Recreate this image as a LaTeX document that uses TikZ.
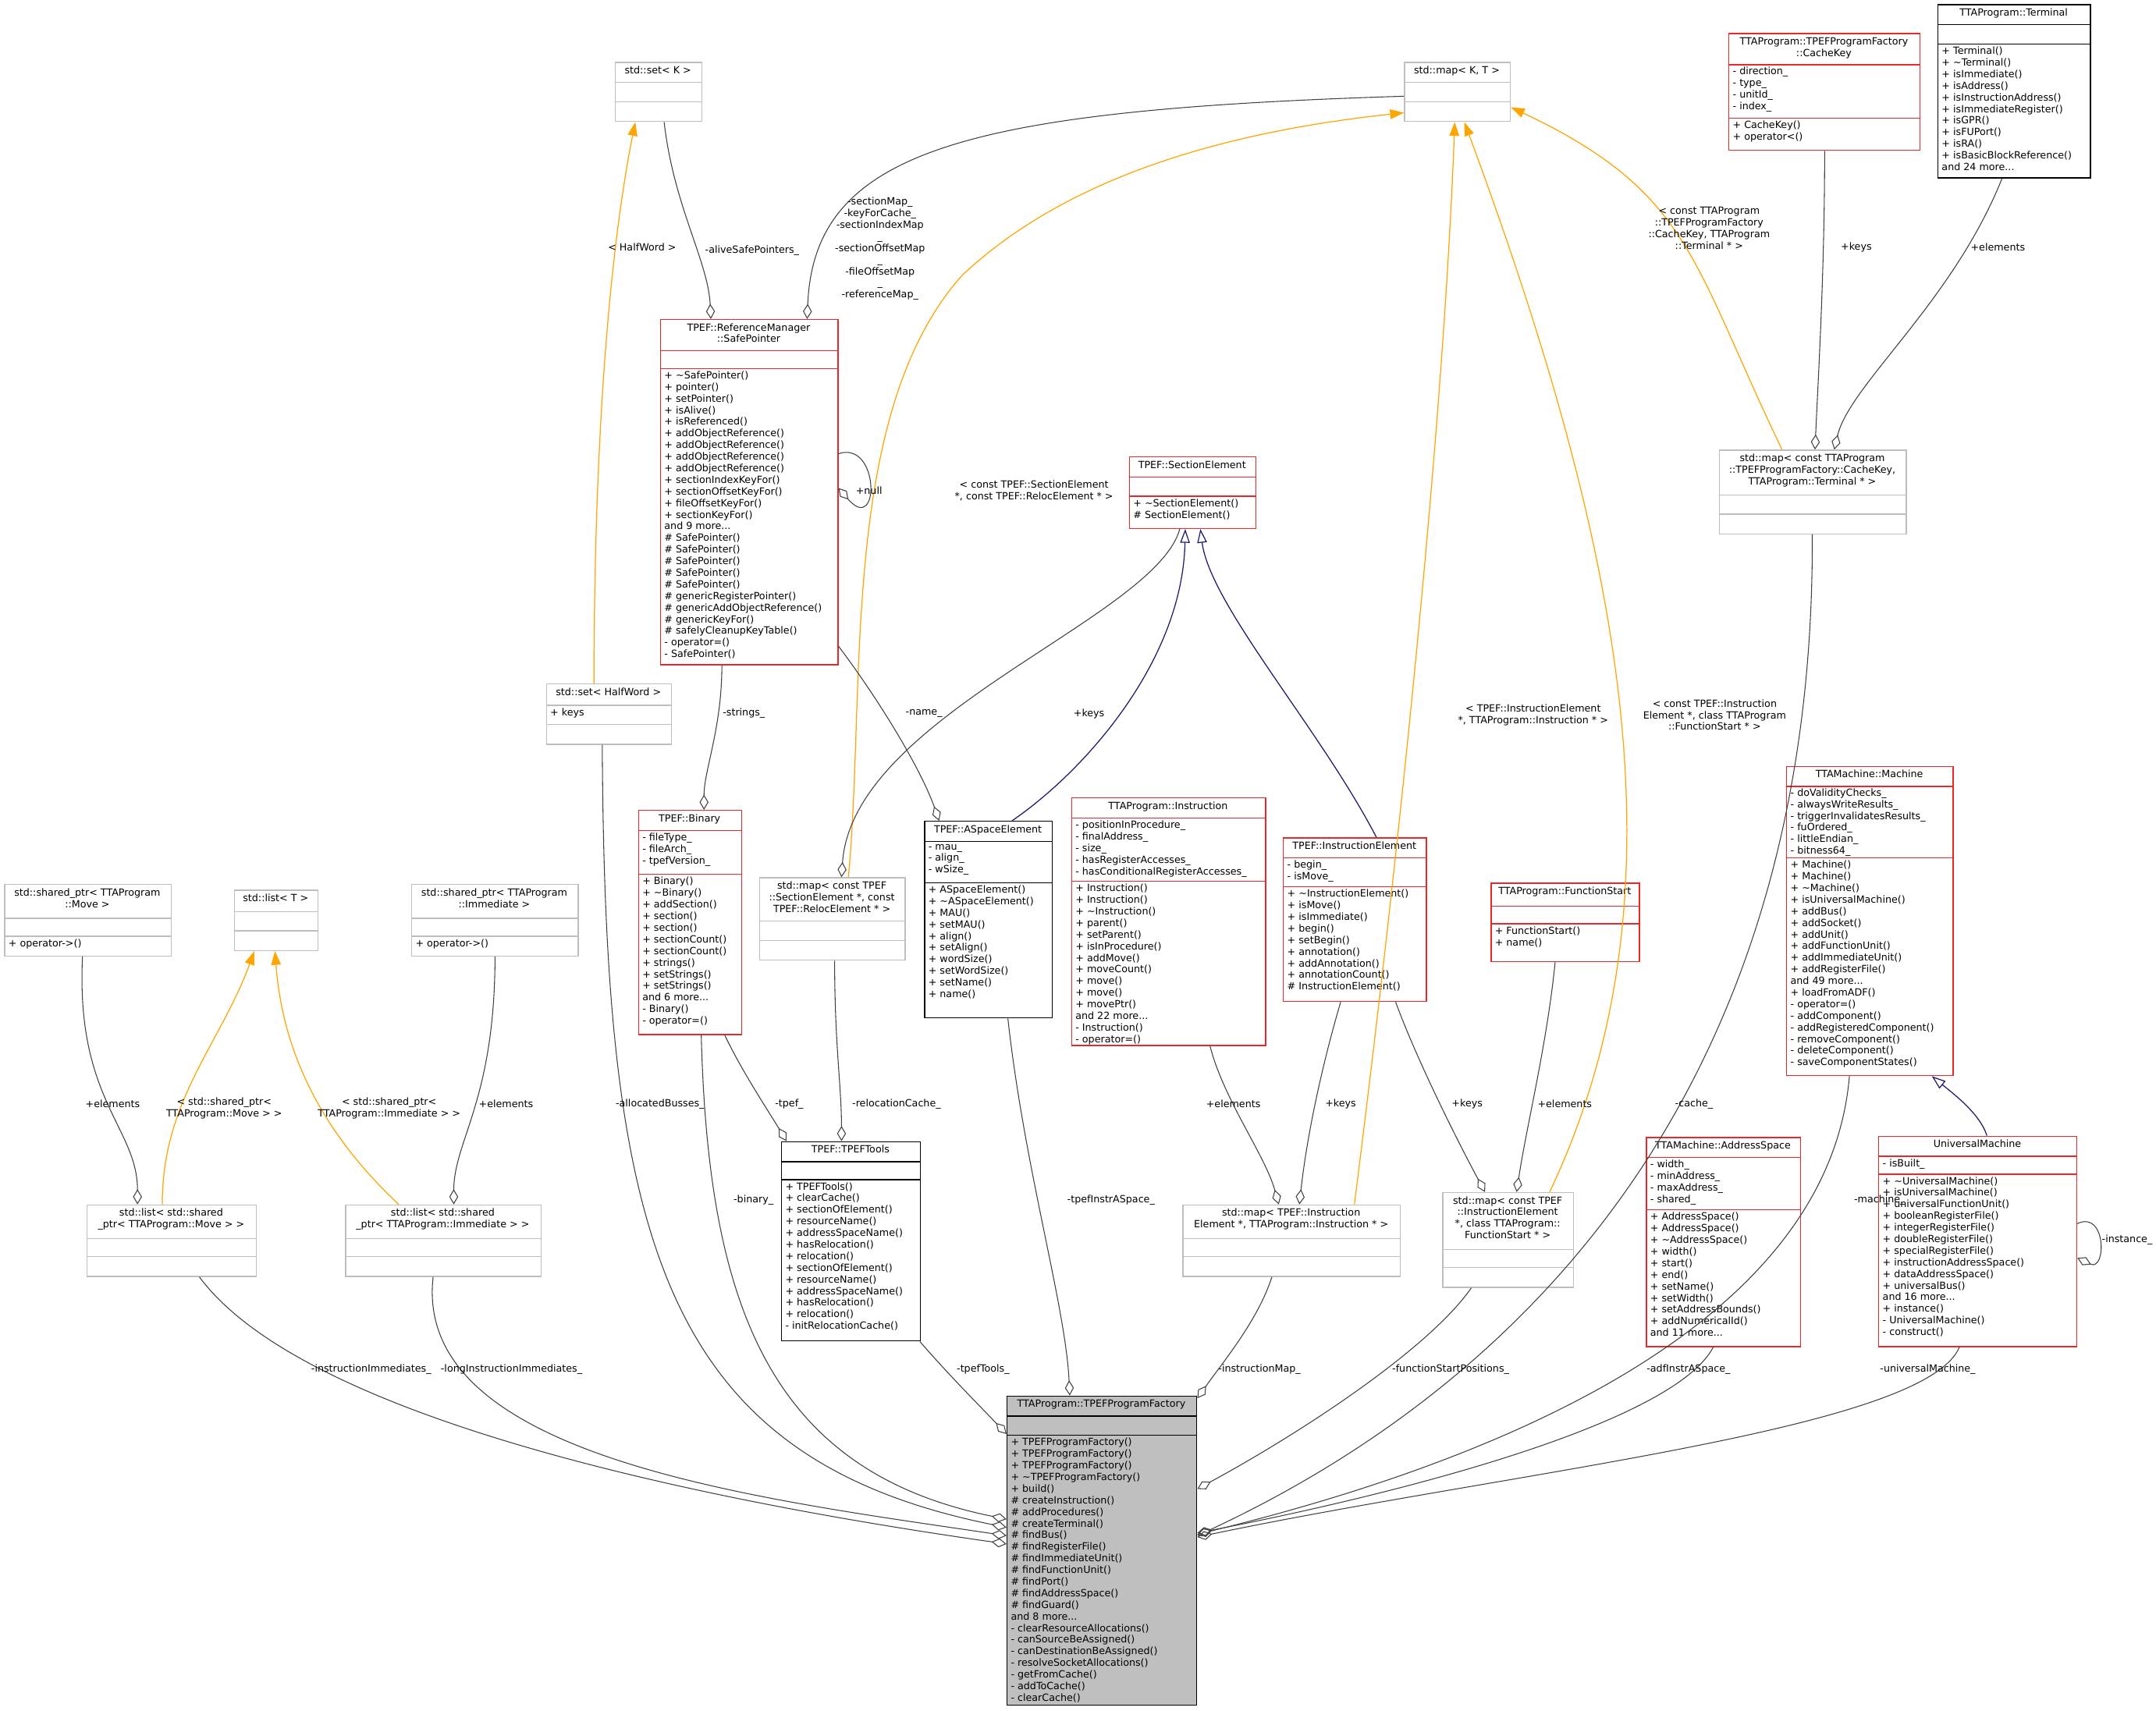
\documentclass[tikz,border=0pt]{standalone}
\usepackage{fontspec}
\setmainfont{DejaVu Sans}
\usetikzlibrary{arrows.meta}
\definecolor{ured}{RGB}{232,40,40}
\definecolor{ugray}{RGB}{190,190,190}
\definecolor{uedge}{RGB}{64,64,64}
\definecolor{uorange}{RGB}{255,165,0}
\definecolor{unavy}{RGB}{25,25,112}
\definecolor{ufac}{RGB}{191,191,191}
\newcommand\tl{\textasciitilde}
\tikzset{
 txt/.style={font=\fontsize{7.2}{8.45}\selectfont, inner sep=0pt},
 redbox/.style={draw=ured, fill=white, inner sep=0pt, line width=0.8pt},
 graybox/.style={draw=ugray, fill=white, inner sep=0pt, line width=0.8pt},
 blackbox/.style={draw=black, fill=white, inner sep=0pt, line width=0.8pt},
 facbox/.style={draw=black, fill=ufac, inner sep=0pt, line width=0.8pt},
 ttl/.style={txt, anchor=north, align=center},
 sec/.style={txt, anchor=north west, align=left},
 lbl/.style={txt, align=center},
 assoc/.style={draw=uedge, line width=0.6pt, -{Diamond[open,length=11pt,width=6.5pt,line width=0.6pt]}},
 tmpl/.style={draw=uorange, line width=0.7pt, -{Triangle[length=10pt,width=7pt]}},
 inh/.style={draw=unavy, line width=0.7pt, -{Triangle[open,length=10pt,width=7pt,fill=white]}},
}
\newcommand\ubox[9]{%
 \node[#2, anchor=north west, minimum width={(#5-#3)*1pt}, minimum height={(#8-#4)*1pt}] (#1) at (#3,#4) {};
 \draw[#2] (#3,#6) -- (#5,#6) (#3,#7) -- (#5,#7);
 \node[ttl] (#1-t) at ({(#3+#5)/2},#4+3) {#9};
}
\newcommand\usec[4]{\node[sec] (#1) at (#2+3,#3+1.8) {#4};}
\begin{document}
\begin{tikzpicture}[x=1pt,y=-1pt]
\useasboundingbox[fill=white] (0,0) rectangle (1568,1244);
% boxes
\ubox{setK}{graybox}{447}{45}{510}{60}{74}{88}{std::set< K >}
\ubox{mapKT}{graybox}{1021}{45}{1098}{60}{74}{88}{std::map< K, T >}
\ubox{cachekey}{redbox}{1257}{24}{1396}{47}{86}{109}{TTAProgram::TPEFProgramFactory\\::CacheKey}
\usec{cachekey-a}{1257}{47}{- direction\_\\- type\_\\- unitId\_\\- index\_}
\usec{cachekey-m}{1257}{86}{+ CacheKey()\\+ operator<()}
\ubox{terminal}{blackbox}{1409}{3}{1520}{18}{32}{129}{TTAProgram::Terminal}
\usec{terminal-m}{1409}{32}{+ Terminal()\\+ \tl Terminal()\\+ isImmediate()\\+ isAddress()\\+ isInstructionAddress()\\+ isImmediateRegister()\\+ isGPR()\\+ isFUPort()\\+ isRA()\\+ isBasicBlockReference()\\and 24 more...}
\ubox{safeptr}{redbox}{480}{232}{609}{255}{268}{483}{TPEF::ReferenceManager\\::SafePointer}
\usec{safeptr-m}{480}{268}{+ \tl SafePointer()\\+ pointer()\\+ setPointer()\\+ isAlive()\\+ isReferenced()\\+ addObjectReference()\\+ addObjectReference()\\+ addObjectReference()\\+ addObjectReference()\\+ sectionIndexKeyFor()\\+ sectionOffsetKeyFor()\\+ fileOffsetKeyFor()\\+ sectionKeyFor()\\and 9 more...\\\# SafePointer()\\\# SafePointer()\\\# SafePointer()\\\# SafePointer()\\\# SafePointer()\\\# genericRegisterPointer()\\\# genericAddObjectReference()\\\# genericKeyFor()\\\# safelyCleanupKeyTable()\\- operator=()\\- SafePointer()}
\ubox{secel}{redbox}{821}{332}{913}{347}{361}{384}{TPEF::SectionElement}
\usec{secel-m}{821}{361}{+ \tl SectionElement()\\\# SectionElement()}
\ubox{mapck}{graybox}{1250}{327}{1386}{360}{374}{388}{std::map< const TTAProgram\\::TPEFProgramFactory::CacheKey,\\TTAProgram::Terminal * >}
\ubox{sethw}{graybox}{397}{497}{488}{513}{527}{541}{std::set< HalfWord >}
\usec{sethw-a}{397}{513}{+ keys}
\ubox{binary}{redbox}{464}{589}{539}{604}{636}{752}{TPEF::Binary}
\usec{binary-a}{464}{604}{- fileType\_\\- fileArch\_\\- tpefVersion\_}
\usec{binary-m}{464}{636}{+ Binary()\\+ \tl Binary()\\+ addSection()\\+ section()\\+ section()\\+ sectionCount()\\+ sectionCount()\\+ strings()\\+ setStrings()\\+ setStrings()\\and 6 more...\\- Binary()\\- operator=()}
\ubox{aspace}{blackbox}{672}{597}{765}{612}{642}{740}{TPEF::ASpaceElement}
\usec{aspace-a}{672}{612}{- mau\_\\- align\_\\- wSize\_}
\usec{aspace-m}{672}{642}{+ ASpaceElement()\\+ \tl ASpaceElement()\\+ MAU()\\+ setMAU()\\+ align()\\+ setAlign()\\+ wordSize()\\+ setWordSize()\\+ setName()\\+ name()}
\ubox{mapsr}{graybox}{552}{638}{658}{670}{684}{698}{std::map< const TPEF\\::SectionElement *, const\\TPEF::RelocElement * >}
\ubox{instr}{redbox}{779}{580}{920}{595}{641}{760}{TTAProgram::Instruction}
\usec{instr-a}{779}{595}{- positionInProcedure\_\\- finalAddress\_\\- size\_\\- hasRegisterAccesses\_\\- hasConditionalRegisterAccesses\_}
\usec{instr-m}{779}{641}{+ Instruction()\\+ Instruction()\\+ \tl Instruction()\\+ parent()\\+ setParent()\\+ isInProcedure()\\+ addMove()\\+ moveCount()\\+ move()\\+ move()\\+ movePtr()\\and 22 more...\\- Instruction()\\- operator=()}
\ubox{instel}{redbox}{933}{609}{1037}{624}{645}{728}{TPEF::InstructionElement}
\usec{instel-a}{933}{624}{- begin\_\\- isMove\_}
\usec{instel-m}{933}{645}{+ \tl InstructionElement()\\+ isMove()\\+ isImmediate()\\+ begin()\\+ setBegin()\\+ annotation()\\+ addAnnotation()\\+ annotationCount()\\\# InstructionElement()}
\ubox{fstart}{redbox}{1084}{642}{1192}{659}{672}{699}{TTAProgram::FunctionStart}
\usec{fstart-m}{1084}{672}{+ FunctionStart()\\+ name()}
\ubox{machine}{redbox}{1299}{557}{1420}{572}{624}{782}{TTAMachine::Machine}
\usec{machine-a}{1299}{571.5}{- doValidityChecks\_\\- alwaysWriteResults\_\\- triggerInvalidatesResults\_\\- fuOrdered\_\\- littleEndian\_\\- bitness64\_}
\usec{machine-m}{1299}{624}{+ Machine()\\+ Machine()\\+ \tl Machine()\\+ isUniversalMachine()\\+ addBus()\\+ addSocket()\\+ addUnit()\\+ addFunctionUnit()\\+ addImmediateUnit()\\+ addRegisterFile()\\and 49 more...\\+ loadFromADF()\\- operator=()\\- addComponent()\\- addRegisteredComponent()\\- removeComponent()\\- deleteComponent()\\- saveComponentStates()}
\ubox{spmove}{graybox}{3}{643}{124}{668}{681}{695}{std::shared\_ptr< TTAProgram\\::Move >}
\usec{spmove-m}{3}{681}{+ operator->()}
\ubox{listT}{graybox}{170}{647}{231}{663}{677}{691}{std::list< T >}
\ubox{spimm}{graybox}{299}{643}{420}{668}{681}{695}{std::shared\_ptr< TTAProgram\\::Immediate >}
\usec{spimm-m}{299}{681}{+ operator->()}
\ubox{tools}{blackbox}{568}{830}{669}{845}{858}{975}{TPEF::TPEFTools}
\usec{tools-m}{568}{858}{+ TPEFTools()\\+ clearCache()\\+ sectionOfElement()\\+ resourceName()\\+ addressSpaceName()\\+ hasRelocation()\\+ relocation()\\+ sectionOfElement()\\+ resourceName()\\+ addressSpaceName()\\+ hasRelocation()\\+ relocation()\\- initRelocationCache()}
\ubox{listmove}{graybox}{63}{876}{186}{901}{914}{928}{std::list< std::shared\\\_ptr< TTAProgram::Move > >}
\ubox{listimm}{graybox}{251}{876}{393}{901}{914}{928}{std::list< std::shared\\\_ptr< TTAProgram::Immediate > >}
\ubox{mapii}{graybox}{860}{876}{1018}{901}{914}{928}{std::map< TPEF::Instruction\\Element *, TTAProgram::Instruction * >}
\ubox{mapfs}{graybox}{1049}{867}{1144}{909}{922}{936}{std::map< const TPEF\\::InstructionElement\\ *, class TTAProgram::\\FunctionStart * >}
\ubox{aspc}{redbox}{1197}{827}{1309}{842}{880}{979}{TTAMachine::AddressSpace}
\usec{aspc-a}{1197}{842}{- width\_\\- minAddress\_\\- maxAddress\_\\- shared\_}
\usec{aspc-m}{1197}{880}{+ AddressSpace()\\+ AddressSpace()\\+ \tl AddressSpace()\\+ width()\\+ start()\\+ end()\\+ setName()\\+ setWidth()\\+ setAddressBounds()\\+ addNumericalId()\\and 11 more...}
\ubox{umach}{redbox}{1366}{826}{1510}{841}{854}{979}{UniversalMachine}
\usec{umach-a}{1366}{841}{- isBuilt\_}
\usec{umach-m}{1366}{854}{+ \tl UniversalMachine()\\+ isUniversalMachine()\\+ universalFunctionUnit()\\+ booleanRegisterFile()\\+ integerRegisterFile()\\+ doubleRegisterFile()\\+ specialRegisterFile()\\+ instructionAddressSpace()\\+ dataAddressSpace()\\+ universalBus()\\and 16 more...\\+ instance()\\- UniversalMachine()\\- construct()}
\ubox{fac}{facbox}{732}{1015}{870}{1030}{1044}{1240}{TTAProgram::TPEFProgramFactory}
\usec{fac-m}{732}{1044}{+ TPEFProgramFactory()\\+ TPEFProgramFactory()\\+ TPEFProgramFactory()\\+ \tl TPEFProgramFactory()\\+ build()\\\# createInstruction()\\\# addProcedures()\\\# createTerminal()\\\# findBus()\\\# findRegisterFile()\\\# findImmediateUnit()\\\# findFunctionUnit()\\\# findPort()\\\# findAddressSpace()\\\# findGuard()\\and 8 more...\\- clearResourceAllocations()\\- canSourceBeAssigned()\\- canDestinationBeAssigned()\\- resolveSocketAllocations()\\- getFromCache()\\- addToCache()\\- clearCache()}
% template edges
\draw[tmpl] ([xshift=35pt]sethw.north west) .. controls (432,350) and (440,200) .. ([xshift=15pt]setK.south west);
\draw[tmpl] ([xshift=65pt]mapsr.north west) .. controls (630,500) and (610,300) .. (700,200) .. controls (780,125) and (900,95) .. ([yshift=-37pt]mapKT.north west);
\draw[tmpl] ([xshift=125pt]mapii.north west) .. controls (1020,600) and (1050,300) .. ([xshift=37pt]mapKT.south west);
\draw[tmpl] ([xshift=78pt]mapfs.north west) .. controls (1230,650) and (1180,400) .. ([xshift=44pt]mapKT.south west);
\draw[tmpl] ([xshift=46pt]mapck.north west) .. controls (1230,190) and (1230,140) .. ([yshift=-33pt]mapKT.north east);
\draw[tmpl] ([xshift=55pt]listmove.north west) .. controls (118,800) and (160,760) .. ([xshift=15pt]listT.south west);
\draw[tmpl] ([xshift=39pt]listimm.north west) .. controls (230,820) and (205,760) .. ([xshift=30pt]listT.south west);
% inheritance
\draw[inh] ([xshift=64pt]aspace.north west) .. controls (790,560) and (860,480) .. ([xshift=41pt]secel.south west);
\draw[inh] ([xshift=68pt]instel.north west) .. controls (960,530) and (880,440) .. ([xshift=52pt]secel.south west);
\draw[inh] ([xshift=79pt]umach.north west) .. controls (1440,810) and (1420,795) .. ([xshift=106pt]machine.south west);
% associations
\draw[assoc] ([xshift=36pt]setK.south west) .. controls (490,150) and (515,190) .. ([xshift=37pt]safeptr.north west);
\draw[assoc] ([yshift=-25pt]mapKT.north west) .. controls (700,80) and (592,110) .. ([xshift=107pt]safeptr.north west);
\draw[assoc] ([yshift=-98pt]safeptr.north east) .. controls (640,320) and (640,390) .. ([yshift=-123pt]safeptr.north east);
\draw[assoc] ([yshift=-238pt]safeptr.north east) .. controls (640,510) and (670,560) .. ([xshift=11pt]aspace.north west);
\draw[assoc] ([xshift=45pt]safeptr.south west) .. controls (525,530) and (512,560) .. ([xshift=48pt]binary.north west);
\draw[assoc] ([xshift=37pt]secel.south west) .. controls (840,450) and (620,520) .. ([xshift=60pt]mapsr.north west);
\draw[assoc] ([xshift=70pt]cachekey.south west) .. controls (1327,200) and (1322,280) .. ([xshift=70pt]mapck.north west);
\draw[assoc] ([xshift=47pt]terminal.south west) .. controls (1420,220) and (1345,280) .. ([xshift=84pt]mapck.north west);
\draw[assoc] ([xshift=63pt]binary.south west) .. controls (540,780) and (560,810) .. ([xshift=4pt]tools.north west);
\draw[assoc] ([xshift=55pt]mapsr.south west) .. controls (607,760) and (612,790) .. ([xshift=44pt]tools.north west);
\draw[assoc] ([xshift=57pt]spmove.south west) .. controls (55,800) and (100,820) .. ([xshift=37pt]listmove.north west);
\draw[assoc] ([xshift=61pt]spimm.south west) .. controls (360,800) and (330,830) .. ([xshift=79pt]listimm.north west);
\draw[assoc] ([xshift=101pt]instr.south west) .. controls (890,800) and (920,840) .. ([xshift=70pt]mapii.north west);
\draw[assoc] ([xshift=42pt]instel.south west) .. controls (960,780) and (950,830) .. ([xshift=85pt]mapii.north west);
\draw[assoc] ([xshift=82pt]instel.south west) .. controls (1030,770) and (1060,830) .. ([xshift=31pt]mapfs.north west);
\draw[assoc] ([xshift=47pt]fstart.south west) .. controls (1125,760) and (1110,820) .. ([xshift=54pt]mapfs.north west);
\draw[assoc] ([yshift=-64pt]umach.north east) .. controls (1532,880) and (1532,925) .. ([yshift=-89pt]umach.north east);
% to factory
\draw[assoc] ([xshift=82pt]listmove.south west) .. controls (220,1030) and (500,1090) .. ([yshift=-108pt]fac.north west);
\draw[assoc] ([xshift=64pt]listimm.south west) .. controls (300,1060) and (550,1090) .. ([yshift=-102pt]fac.north west);
\draw[assoc] ([xshift=41pt]sethw.south west) .. controls (440,900) and (480,1060) .. ([yshift=-96pt]fac.north west);
\draw[assoc] ([xshift=46pt]binary.south west) .. controls (515,950) and (560,1070) .. ([yshift=-90pt]fac.north west);
\draw[assoc] ([xshift=101pt]tools.south west) .. controls (690,1000) and (710,1020) .. ([yshift=-28pt]fac.north west);
\draw[assoc] ([xshift=61pt]aspace.south west) .. controls (745,850) and (775,950) .. ([xshift=46pt]fac.north west);
\draw[assoc] ([xshift=65pt]mapii.south west) .. controls (915,960) and (890,990) .. ([yshift=-2pt]fac.north east);
\draw[assoc] ([xshift=21pt]mapfs.south west) .. controls (1040,980) and (950,1040) .. ([yshift=-68pt]fac.north east);
\draw[assoc] ([xshift=68pt]mapck.south west) .. controls (1320,800) and (1100,1010) .. ([yshift=-102pt]fac.north east);
\draw[assoc] ([xshift=49pt]aspc.south west) .. controls (1220,1030) and (1050,1080) .. ([yshift=-100pt]fac.north east);
\draw[assoc] ([xshift=46pt]machine.south west) .. controls (1330,960) and (1100,1060) .. ([yshift=-101pt]fac.north east);
\draw[assoc] ([xshift=59pt]umach.south west) .. controls (1400,1040) and (1100,1070) .. ([yshift=-103pt]fac.north east);
% labels
\node[lbl] (l1) at (547,182) {-aliveSafePointers\_};
\node[lbl] (l2) at (640,181) {-sectionMap\_\\-keyForCache\_\\-sectionIndexMap\\\_\\-sectionOffsetMap\\\_\\-fileOffsetMap\\\_\\-referenceMap\_};
\node[lbl] (l3) at (467,180) {< HalfWord >};
\node[lbl] (l4) at (632,357) {+null};
\node[lbl] (l5) at (752,357) {< const TPEF::SectionElement\\*, const TPEF::RelocElement * >};
\node[lbl] (l6) at (1115,520) {< TPEF::InstructionElement\\*, TTAProgram::Instruction * >};
\node[lbl] (l7) at (1247,520) {< const TPEF::Instruction\\Element *, class TTAProgram\\::FunctionStart * >};
\node[lbl] (l8) at (1243,166) {< const TTAProgram\\::TPEFProgramFactory\\::CacheKey, TTAProgram\\::Terminal * >};
\node[lbl] (l9) at (1350,180) {+keys};
\node[lbl] (l10) at (1453,180) {+elements};
\node[lbl] (l11) at (792,519) {+keys};
\node[lbl] (l12) at (672,519) {-name\_};
\node[lbl] (l13) at (541,519) {-strings\_};
\node[lbl] (l14) at (574,803) {-tpef\_};
\node[lbl] (l15) at (652,803) {-relocationCache\_};
\node[lbl] (l16) at (82,803) {+elements};
\node[lbl] (l17) at (163,806) {< std::shared\_ptr<\\TTAProgram::Move > >};
\node[lbl] (l18) at (283,806) {< std::shared\_ptr<\\TTAProgram::Immediate > >};
\node[lbl] (l19) at (368,803) {+elements};
\node[lbl] (l20) at (897,803) {+elements};
\node[lbl] (l21) at (975,803) {+keys};
\node[lbl] (l22) at (1067,803) {+keys};
\node[lbl] (l23) at (1138,803) {+elements};
\node[lbl] (l24) at (1547,902) {-instance\_};
\node[lbl] (l25) at (270,996) {-instructionImmediates\_};
\node[lbl] (l26) at (372,996) {-longInstructionImmediates\_};
\node[lbl] (l27) at (480,803) {-allocatedBusses\_};
\node[lbl] (l28) at (548,873) {-binary\_};
\node[lbl] (l29) at (715,996) {-tpefTools\_};
\node[lbl] (l30) at (808,873) {-tpefInstrASpace\_};
\node[lbl] (l31) at (916,996) {-instructionMap\_};
\node[lbl] (l32) at (1055,996) {-functionStartPositions\_};
\node[lbl] (l33) at (1232,803) {-cache\_};
\node[lbl] (l34) at (1228,996) {-adfInstrASpace\_};
\node[lbl] (l35) at (1367,873) {-machine\_};
\node[lbl] (l36) at (1402,996) {-universalMachine\_};
\end{tikzpicture}
\end{document}
